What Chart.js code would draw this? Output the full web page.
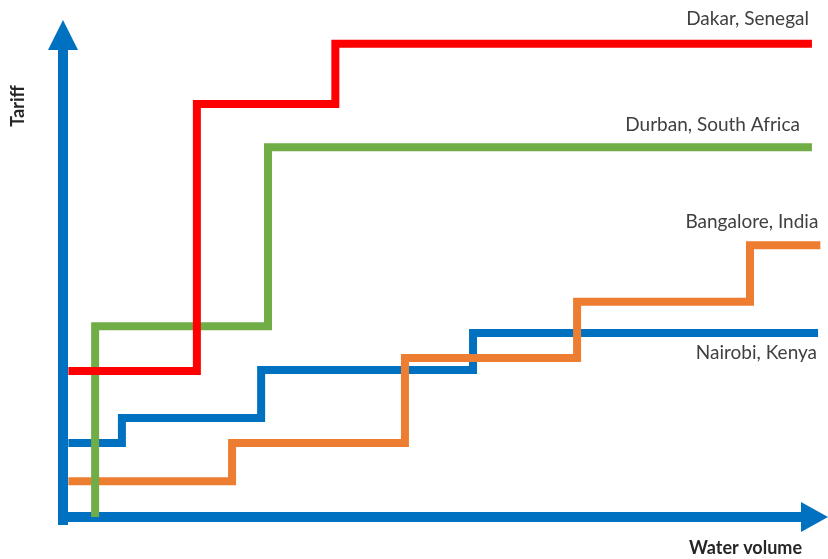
<!DOCTYPE html>
<html lang="en">
<head>
  <meta charset="UTF-8" />
  <title>Water tariffs</title>
  <script src="https://cdn.jsdelivr.net/npm/chart.js"></script>
  <style>
    body { margin: 0; background: #fff; }
    #wrap { width: 828px; height: 559px; position: relative; }
  </style>
</head>
<body>
  <div id="wrap"><canvas id="stepChart"></canvas></div>

  <script>
    // step breakpoints, x = water volume, y = tariff (arbitrary 0-100 units)
    const dakarX = [0.7, 17.5, 35.6, 97.9];
    const dakarY = [29.4, 83.1, 95.2, 95.2];
    const durbanX = [4.2, 4.2, 26.8, 97.9];
    const durbanY = [0, 38.4, 74.4, 74.4];
    const bangaloreX = [0.7, 22.1, 44.7, 67.2, 89.8, 99.0];
    const bangaloreY = [7.2, 14.9, 32.0, 43.3, 54.7, 54.7];
    const nairobiX = [0.7, 7.7, 25.9, 53.6, 98.7];
    const nairobiY = [14.9, 19.9, 29.6, 37.0, 37.0];

    const cities = ['Dakar, Senegal', 'Durban, South Africa', 'Bangalore, India', 'Nairobi, Kenya'];
    const colors = ['#ff0000', '#70ad47', '#ed7d31', '#0070c0'];
    const axisColor = '#0070c0';

    const toPoints = (xs, ys) => xs.map((x, i) => ({ x, y: ys[i] }));
    const series = [
      toPoints(dakarX, dakarY),
      toPoints(durbanX, durbanY),
      toPoints(bangaloreX, bangaloreY),
      toPoints(nairobiX, nairobiY)
    ];

    // where each city name sits relative to the end of its line
    const labelPos = [
      { dx: -3, dy: -25 },
      { dx: -12, dy: -22 },
      { dx: -2, dy: -23 },
      { dx: -1, dy: 20 }
    ];

    const arrowAxes = {
      id: 'arrowAxes',
      beforeDatasetsDraw(chart) {
        const c = chart.ctx;
        const x0 = chart.scales.x.getPixelForValue(0);
        const y0 = chart.scales.y.getPixelForValue(0);
        const a = chart.chartArea;
        c.save();
        c.fillStyle = axisColor;
        // y axis shaft + head
        c.fillRect(x0 - 5, a.top + 28, 10, y0 + 8 - (a.top + 28));
        c.beginPath();
        c.moveTo(x0, a.top);
        c.lineTo(x0 + 15, a.top + 30);
        c.lineTo(x0 - 15, a.top + 30);
        c.closePath();
        c.fill();
        // x axis shaft + head
        c.fillRect(x0 - 5, y0 - 5, a.right - 26 - (x0 - 5), 10);
        c.beginPath();
        c.moveTo(a.right, y0);
        c.lineTo(a.right - 27, y0 - 15);
        c.lineTo(a.right - 27, y0 + 15);
        c.closePath();
        c.fill();

        c.fillStyle = '#262626';
        c.font = 'bold 18px Lato, "Open Sans", sans-serif';
        c.textAlign = 'right';
        c.textBaseline = 'middle';
        c.fillText('Water volume', a.right - 26, y0 + 31);
        c.translate(18, 106);
        c.rotate(-Math.PI / 2);
        c.textAlign = 'center';
        c.fillText('Tariff', 0, 0);
        c.restore();
      },
      afterDatasetsDraw(chart) {
        const c = chart.ctx;
        c.save();
        c.fillStyle = '#404040';
        c.font = '19px Lato, "Open Sans", sans-serif';
        c.textAlign = 'right';
        c.textBaseline = 'middle';
        chart.data.datasets.forEach((ds, i) => {
          const meta = chart.getDatasetMeta(i);
          const last = meta.data[meta.data.length - 1];
          c.fillText(ds.label, last.x + labelPos[i].dx, last.y + labelPos[i].dy);
        });
        c.restore();
      }
    };

    new Chart(document.getElementById('stepChart'), {
      type: 'line',
      data: {
        datasets: series.map((pts, i) => ({
          label: cities[i],
          data: pts,
          borderColor: colors[i],
          borderWidth: 8,
          stepped: 'before',
          pointRadius: 0,
          fill: false,
          borderJoinStyle: 'miter',
          borderCapStyle: 'butt'
        }))
      },
      options: {
        responsive: true,
        maintainAspectRatio: false,
        animation: false,
        layout: { padding: { left: 63, right: 0, top: 20, bottom: 42 } },
        plugins: { legend: { display: false }, tooltip: { enabled: false } },
        scales: {
          x: { type: 'linear', min: 0, max: 100, display: false },
          y: { type: 'linear', min: 0, max: 100, display: false }
        }
      },
      plugins: [arrowAxes]
    });
  </script>
</body>
</html>
